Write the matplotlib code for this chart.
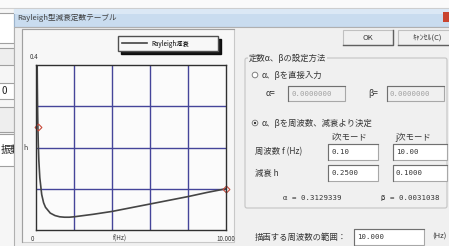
import matplotlib
matplotlib.use("Agg")
import matplotlib.pyplot as plt
from matplotlib.patches import Rectangle, Circle, FancyBboxPatch

plt.rcParams['font.family'] = ['Noto Sans CJK JP', 'DejaVu Sans']

# データ
f_hz = [0.0625, 0.07, 0.08, 0.09, 0.1, 0.12, 0.15, 0.2, 0.3, 0.4, 0.5, 0.75,
        1.0, 1.25, 1.5, 1.75, 2.0, 3.0, 4.0, 5.0, 6.0, 7.0, 8.0, 9.0, 10.0]
h_val = [0.399, 0.356, 0.312, 0.278, 0.250, 0.209, 0.168, 0.127, 0.086, 0.066,
         0.055, 0.041, 0.035, 0.032, 0.031, 0.031, 0.032, 0.038, 0.045, 0.054,
         0.063, 0.072, 0.081, 0.091, 0.100]
mode_f = [0.10, 10.00]
mode_h = [0.25, 0.10]
legend_label = "Rayleigh減衰"
x_ticks = ["0", "f(Hz)", "10.000"]

W, H = 449, 246
fig = plt.figure(figsize=(W / 100, H / 100), dpi=100)

# 画面全体 (ピクセル座標)
ui = fig.add_axes([0, 0, 1, 1])
ui.set_xlim(0, W)
ui.set_ylim(H, 0)
ui.axis("off")
ui.set_zorder(0)

TXT = "#353535"


def rect(x0, y0, x1, y1, fc, ec="none", lw=0.8, z=1):
    ui.add_patch(Rectangle((x0, y0), x1 - x0, y1 - y0, facecolor=fc,
                           edgecolor=ec, linewidth=lw, zorder=z))


def txt(x, y, s, size=6, color=TXT, z=5, **kw):
    ui.text(x, y, s, fontsize=size, color=color, va="center", zorder=z, **kw)


def textbox(x0, y0, x1, y1, s, enabled=True):
    rect(x0, y0, x1, y1, "white" if enabled else "#f0f0f0", "#a8a8a8", z=3)
    ui.plot([x0, x0, x1], [y1, y0, y0], color="#707070", lw=0.8, zorder=4)
    txt(x0 + 3, (y0 + y1) / 2, s, size=5.3, family="DejaVu Sans Mono",
        color=TXT if enabled else "#a0a0a0")


# 背景のウィンドウ
rect(0, 0, W, H, "#f6f6f6", z=0)
rect(0, 0, W, 8, "#fafafa", z=0.5)
ui.plot([0, W], [8, 8], color="#d0d0d0", lw=0.8, zorder=0.6)
for y0, y1, fc in [(13, 43, "white"), (48, 65, "#eeeeee"), (83, 99, "white"),
                   (107, 132, "#eeeeee"), (134, 166, "white")]:
    rect(-2, y0, 14, y1, fc, "#a0a0a0", z=0.7)
txt(1, 91, "0", size=7, color="#202020", z=0.8)
txt(0.5, 150, "振動", size=7.5, color="#202020", z=0.8)

# ダイアログ
rect(14, 9, W + 2, 27, "#c9dcef", "#9db4cc", z=1)
rect(14, 9, W + 2, 14, "#dbe8f5", z=1.1)
txt(17, 17.5, "Rayleigh型減衰定数テーブル", size=5.5, color="#404040")
rect(443, 12, W + 2, 22, "#c9442f", z=2)
rect(14, 27, W + 2, H + 2, "#f0f0f0", "#b0b0b0", z=1)

# グラフパネル
rect(22, 29, 234, 242, "#f7f7f7", "#c8c8c8", z=2)
ui.plot([22, 22, 234], [242, 29, 29], color="#a0a0a0", lw=0.8, zorder=2.1)

# ボタン
for x0, x1, lab in [(343, 393, "OK"), (398, W + 2, "ｷｬﾝｾﾙ(C)")]:
    rect(x0, 30, x1, 45, "#f0f0f0", "#c0c0c0", z=2)
    ui.plot([x0, x1, x1], [45, 45, 30], color="#606060", lw=1.0, zorder=2.1)
    ui.text((x0 + x1) / 2 + (3 if lab != "OK" else 0), 37.5, lab, fontsize=5.5,
            color=TXT, ha="center", va="center", zorder=5)

# グループボックス
ui.add_patch(FancyBboxPatch((245, 58), 202, 150, boxstyle="round,pad=0,rounding_size=2",
                            facecolor="none", edgecolor="#c4c4c4", lw=0.8, zorder=2))
ui.text(249, 58, "定数α、βの設定方法", fontsize=6, color=TXT, va="center",
        zorder=5, bbox=dict(facecolor="#f0f0f0", edgecolor="none", pad=0.5))

ui.add_patch(Circle((255, 75), 2.8, facecolor="white", edgecolor="#808080", lw=0.7, zorder=3))
txt(262, 75, "α、βを直接入力")
txt(266, 93.5, "α=", size=6, style="italic")
textbox(288, 86, 345, 101, "0.0000000", enabled=False)
txt(368, 93.5, "β=", size=6, style="italic")
textbox(387, 86, 444, 101, "0.0000000", enabled=False)

ui.add_patch(Circle((255, 123), 2.8, facecolor="white", edgecolor="#808080", lw=0.7, zorder=3))
ui.add_patch(Circle((255, 123), 1.2, facecolor="#303030", zorder=4))
txt(262, 123, "α、βを周波数、減衰より決定")
txt(331, 137, "i次モード")
txt(395, 137, "j次モード")
txt(255, 152, "周波数 f (Hz)")
textbox(328, 144, 378, 160, "0.10")
textbox(393, 144, 447, 160, "10.00")
txt(255, 173, "減衰 h")
textbox(328, 165, 378, 181, "0.2500")
textbox(393, 165, 447, 181, "0.1000")
txt(283, 198, "α = 0.3129339", size=5.3, family=["DejaVu Sans Mono"])
txt(381, 198, "β = 0.0031038", size=5.3, family=["DejaVu Sans Mono"])

txt(255, 237, "描画する周波数の範囲：")
textbox(354, 229, 424, 245, "10.000")
txt(432, 237, "(Hz)", size=5.5)

# グラフ本体
ax = fig.add_axes([36 / W, 1 - 230 / H, 190 / W, 165 / H])
ax.set_zorder(1)
ax.set_facecolor("#fbfbfb")
ax.set_xlim(0, 10)
ax.set_ylim(0, 0.4)
ax.set_xticks([2, 4, 6, 8])
ax.set_yticks([0.1, 0.2, 0.3])
ax.tick_params(length=0, labelbottom=False, labelleft=False)
ax.grid(True, color="#45459a", lw=1.0)
for s in ax.spines.values():
    s.set_color("#303030")
    s.set_linewidth(1.0)

ax.plot(f_hz, h_val, color="#454545", lw=1.2, label=legend_label)
ax.plot(mode_f, mode_h, ls="none", marker="D", ms=3.5, mfc="none",
        mec="#c84a3a", mew=0.8, clip_on=False)

ax.text(-0.1, 0.41, "0.4", fontsize=4.5, color=TXT, transform=ax.transData,
        ha="center", va="bottom")
ax.text(-0.42, 0.2, "h", fontsize=5, color=TXT, ha="right", va="center")
for xv, lab in zip([-0.2, 4.4, 10.0], x_ticks):
    ax.text(xv, -0.012, lab, fontsize=4.5, color=TXT, ha="center", va="top")

leg = ax.legend(loc="center left", bbox_to_anchor=(118 / W, 1 - 53 / H, 100 / W, 19 / H),
                bbox_transform=fig.transFigure, mode="expand", fontsize=4.5,
                frameon=True, fancybox=False, shadow={"color": "black", "alpha": 0.9},
                edgecolor="#505050", handlelength=4, borderpad=0.6, borderaxespad=0)
leg.get_frame().set_facecolor("#f8f8f8")

fig.savefig("out.png", dpi=100)
